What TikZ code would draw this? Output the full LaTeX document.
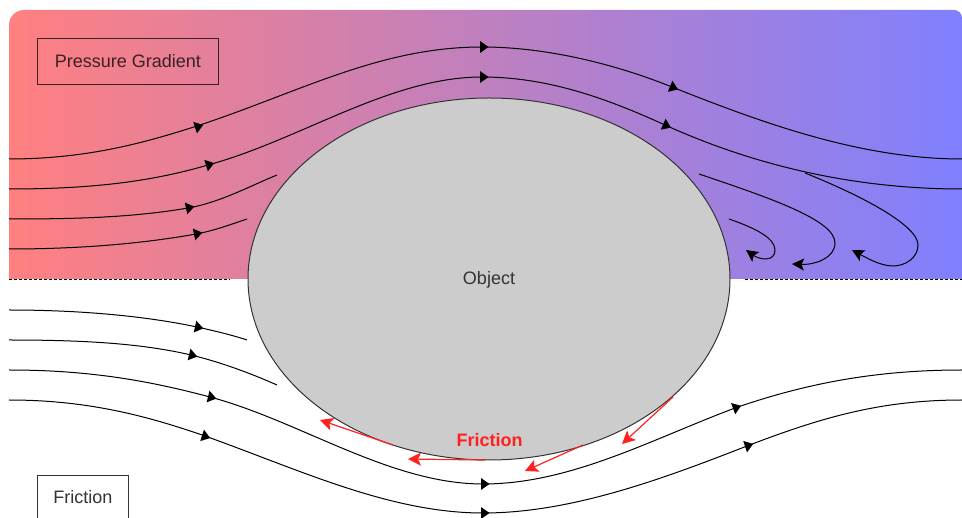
\documentclass[tikz,border=0pt]{standalone}
\usepackage{fontspec}
\setmainfont{Liberation Sans}
\usetikzlibrary{arrows.meta,shapes.geometric}
\definecolor{inkdark}{HTML}{333333}
\definecolor{objgray}{HTML}{CCCCCC}
\definecolor{frictred}{HTML}{FF2020}
\definecolor{warmside}{HTML}{FF8080}
\definecolor{coolside}{HTML}{8080FF}
\definecolor{midside}{HTML}{BF80BF}
\tikzset{
  flowline/.style={draw=black,line width=1pt},
  curlend/.style={flowline,-{Stealth[length=12pt,width=12pt,inset=2.5pt]}},
  frictarrow/.style={draw=frictred,line width=1.2pt,-{Stealth[length=13pt,width=13pt,inset=3pt]}},
  labelfont/.style={font=\fontsize{18}{20}\selectfont},
}
% solid triangle sitting on a streamline: x, y, direction in degrees
\newcommand{\flowtip}[3]{\fill[black,shift={(#1,#2)},rotate=#3] (6.5,0) -- (-2,6) -- (-2,-6) -- cycle;}
\begin{document}
\begin{tikzpicture}[x=1pt,y=-1pt]
\useasboundingbox (0,0) rectangle (962,518);
\clip (0,0) rectangle (962,518);
\fill[white] (0,0) rectangle (962,518);

% pressure region
\path[left color=warmside,right color=coolside,middle color=midside]
  (9,279) -- (9,25) arc[start angle=180,end angle=90,x radius=15,y radius=-15]
  -- (954,10) arc[start angle=90,end angle=0,x radius=8,y radius=-8] -- (962,279) -- cycle;
\draw[black,line width=0.9pt,dash pattern=on 3pt off 2pt] (9,279) -- (230,279);
\draw[black,line width=0.9pt,dash pattern=on 3pt off 2pt] (745,279) -- (962,279);

% streamlines above the axis
\draw[flowline] (9,159) .. controls (90,159) and (150,141) .. (197,126)
  .. controls (300,92) and (380,47) .. (482,47)
  .. controls (550,47) and (620,66) .. (672,87)
  .. controls (760,122) and (860,159) .. (962,159);
\draw[flowline] (9,189) .. controls (90,189) and (150,182) .. (208,165)
  .. controls (300,140) and (390,77) .. (482,77)
  .. controls (550,77) and (610,100) .. (665,125)
  .. controls (760,168) and (860,189) .. (962,189);
\draw[flowline] (9,219) .. controls (70,219) and (130,218) .. (188,208)
  .. controls (220,202.5) and (250,186) .. (277,175);
\draw[flowline] (9,249) .. controls (70,249) and (135,245) .. (196,234)
  .. controls (215,230.5) and (232,224) .. (247,219);
\flowtip{197}{127}{18}
\flowtip{482}{47}{0}
\flowtip{672}{87}{-22}
\flowtip{208}{165}{17}
\flowtip{482}{77}{0}
\flowtip{665}{125}{-24}
\flowtip{188}{208}{12}
\flowtip{196}{234}{12}

% wake eddies
\draw[curlend] (699,174) .. controls (770,198) and (835,220) .. (835,243)
  .. controls (835,258) and (815,265) .. (792,264);
\draw[curlend] (805,173) .. controls (860,195) and (918,225) .. (918,245)
  .. controls (918,258) and (905,266) .. (893,266)
  .. controls (880,266) and (865,257) .. (852,250);
\draw[curlend] (729,219) .. controls (755,228) and (775,238) .. (775,250)
  .. controls (775,262) and (760,260) .. (746,250);

% streamlines below the axis
\draw[flowline] (9,310) .. controls (80,310) and (145,316) .. (197,327)
  .. controls (215,331) and (232,335) .. (247,340);
\draw[flowline] (9,340) .. controls (80,340) and (140,343) .. (191,355)
  .. controls (220,362) and (250,373) .. (277,385);
\draw[flowline] (9,370) .. controls (90,370) and (150,381) .. (210,397)
  .. controls (300,421) and (390,484) .. (483,484)
  .. controls (570,484) and (650,440) .. (735,408)
  .. controls (810,382) and (880,370) .. (962,370);
\draw[flowline] (9,400) .. controls (90,400) and (150,417) .. (205,436)
  .. controls (300,470) and (390,513) .. (483,513)
  .. controls (570,513) and (660,480) .. (747,446)
  .. controls (820,418) and (880,400) .. (962,400);
\flowtip{197}{327}{-12}
\flowtip{191}{355}{-14}
\flowtip{210}{397}{-14}
\flowtip{483}{484}{0}
\flowtip{735}{408}{20}
\flowtip{204}{436}{-18}
\flowtip{483}{513}{0}
\flowtip{747}{446}{18}

% obstacle
\node[ellipse,draw=inkdark,fill=objgray,line width=1pt,minimum width=482pt,minimum height=362pt,inner sep=0pt,text=inkdark,labelfont,text height=13pt,text depth=2pt] (obstacle) at (489,279) {Object};

% friction arrows
\coordinate (fa1) at (393,445); \coordinate (fb1) at (320,420);
\coordinate (fa2) at (485,460); \coordinate (fb2) at (408,459);
\coordinate (fa3) at (583,445); \coordinate (fb3) at (525,471);
\coordinate (fa4) at (673,397); \coordinate (fb4) at (622,444);
\draw[frictarrow] (fa1) -- (fb1);
\draw[frictarrow] (fa2) -- (fb2);
\draw[frictarrow] (fa3) -- (fb3);
\draw[frictarrow] (fa4) -- (fb4);
\node[text=frictred,font=\bfseries\fontsize{18}{20}\selectfont] (frictlabel) at (489.5,440.5) {Friction};

% legend boxes
\node[draw=black,draw opacity=0.75,text=black,text opacity=0.75,line width=0.9pt,labelfont,inner sep=0pt,minimum width=181pt,minimum height=45.5pt] (pressurebox) at (128,61.25) {Pressure Gradient};
\node[draw=inkdark,text=inkdark,line width=0.9pt,labelfont,inner sep=0pt,minimum width=91pt,minimum height=60pt,text depth=0pt] (frictionbox) at (83,505.5) {\raisebox{17pt}{Friction}};
\end{tikzpicture}
\end{document}
